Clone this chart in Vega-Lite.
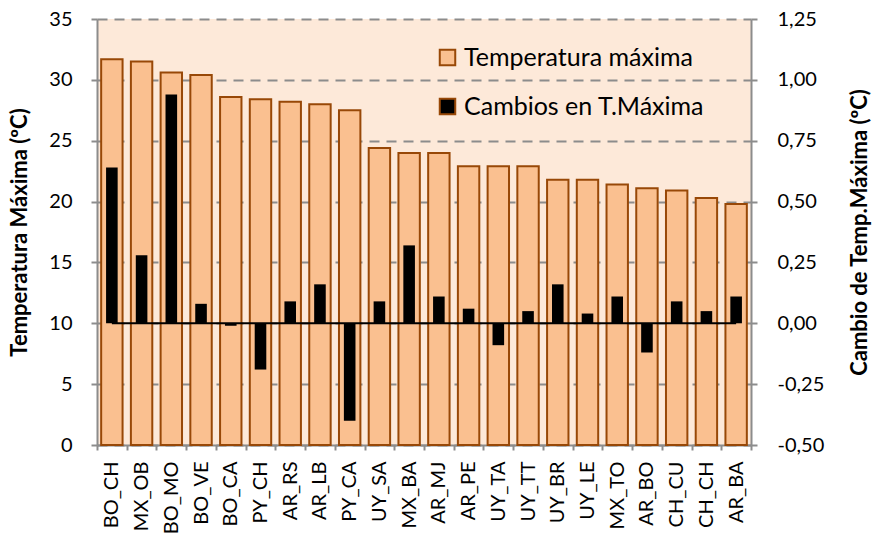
{
  "$schema": "https://vega.github.io/schema/vega-lite/v6.json",
  "width": 654,
  "height": 426,
  "autosize": {"type": "none"},
  "padding": {"left": 97, "top": 19, "right": 121, "bottom": 88},
  "background": "white",
  "config": {
    "view": {"fill": "#FDE9D9", "stroke": null},
    "font": "Lato",
    "axis": {
      "labelColor": "#000000",
      "titleColor": "#000000",
      "domainColor": "#8c8c8c",
      "domainWidth": 2,
      "tickColor": "#8c8c8c",
      "tickWidth": 2,
      "labelFont": "Lato",
      "titleFont": "Lato"
    }
  },
  "data": {
    "values": [
      {"site": "BO_CH", "tmax": 31.7, "change": 0.64},
      {"site": "MX_OB", "tmax": 31.5, "change": 0.28},
      {"site": "BO_MO", "tmax": 30.6, "change": 0.94},
      {"site": "BO_VE", "tmax": 30.4, "change": 0.08},
      {"site": "BO_CA", "tmax": 28.6, "change": -0.01},
      {"site": "PY_CH", "tmax": 28.4, "change": -0.19},
      {"site": "AR_RS", "tmax": 28.2, "change": 0.09},
      {"site": "AR_LB", "tmax": 28.0, "change": 0.16},
      {"site": "PY_CA", "tmax": 27.5, "change": -0.4},
      {"site": "UY_SA", "tmax": 24.4, "change": 0.09},
      {"site": "MX_BA", "tmax": 24.0, "change": 0.32},
      {"site": "AR_MJ", "tmax": 24.0, "change": 0.11},
      {"site": "AR_PE", "tmax": 22.9, "change": 0.06},
      {"site": "UY_TA", "tmax": 22.9, "change": -0.09},
      {"site": "UY_TT", "tmax": 22.9, "change": 0.05},
      {"site": "UY_BR", "tmax": 21.8, "change": 0.16},
      {"site": "UY_LE", "tmax": 21.8, "change": 0.04},
      {"site": "MX_TO", "tmax": 21.4, "change": 0.11},
      {"site": "AR_BO", "tmax": 21.1, "change": -0.12},
      {"site": "CH_CU", "tmax": 20.9, "change": 0.09},
      {"site": "CH_CH", "tmax": 20.3, "change": 0.05},
      {"site": "AR_BA", "tmax": 19.8, "change": 0.11}
    ]
  },
  "encoding": {
    "x": {
      "field": "site", "type": "nominal", "sort": null,
      "scale": {"paddingInner": 0, "paddingOuter": 0},
      "axis": {
        "title": null,
        "labelAngle": -90,
        "labelFontSize": 20,
        "labelPadding": 11,
        "tickSize": 5,
        "tickBand": "extent",
        "grid": false
      }
    }
  },
  "layer": [
    {
      "mark": {"type": "bar", "stroke": "#984807", "strokeWidth": 2, "width": {"band": 0.72}},
      "encoding": {
        "y": {
          "field": "tmax", "type": "quantitative",
          "scale": {"domain": [0, 35], "nice": false},
          "axis": {
            "orient": "left",
            "title": "Temperatura Máxima (ºC)",
            "titleFontSize": 22,
            "titleFontWeight": "bold",
            "titlePadding": 17,
            "values": [0, 5, 10, 15, 20, 25, 30, 35],
            "grid": true,
            "gridDash": [10, 7],
            "gridColor": "#8c8c8c",
            "gridWidth": 2,
            "tickSize": 6,
            "labelFontSize": 20,
            "labelPadding": 19
          }
        },
        "color": {
          "datum": "Temperatura máxima",
          "type": "nominal",
          "scale": {"domain": ["Temperatura máxima", "Cambios en T.Máxima"], "range": ["#FAC090", "#000000"]},
          "legend": {
            "orient": "none",
            "legendX": 338,
            "legendY": 26,
            "title": null,
            "padding": 0,
            "labelFontSize": 25,
            "labelFont": "Lato",
            "labelColor": "#000000",
            "labelLimit": 400,
            "labelOffset": 4,
            "symbolType": "square",
            "symbolSize": 240,
            "symbolStrokeWidth": 2,
            "rowPadding": 23,
            "encode": {
              "symbols": {
                "update": {
                  "stroke": {"signal": "datum.value === 'Cambios en T.Máxima' ? '#000000' : '#984807'"}
                }
              }
            }
          }
        }
      }
    },
    {
      "mark": {"type": "bar", "width": {"band": 0.39}},
      "encoding": {
        "y": {
          "field": "change", "type": "quantitative",
          "scale": {"domain": [-0.5, 1.25], "nice": false},
          "axis": {
            "orient": "right",
            "title": "Cambio de Temp.Máxima (ºC)",
            "titleFontSize": 22,
            "titleFontWeight": "bold",
            "titleAngle": 270,
            "titleBaseline": "top",
            "titlePadding": 26,
            "values": [-0.5, -0.25, 0, 0.25, 0.5, 0.75, 1, 1.25],
            "labelExpr": "(datum.value < 0 ? '-' : '') + replace(format(abs(datum.value), '.2f'), '.', ',')",
            "grid": false,
            "tickSize": 6,
            "labelFontSize": 20,
            "labelPadding": 20
          }
        },
        "color": {"datum": "Cambios en T.Máxima", "type": "nominal"}
      }
    },
    {
      "mark": {"type": "line", "color": "#000000", "strokeWidth": 2},
      "encoding": {
        "y": {"datum": 0, "type": "quantitative", "scale": {"domain": [-0.5, 1.25], "nice": false}, "axis": null}
      }
    }
  ],
  "resolve": {"scale": {"y": "independent"}}
}
